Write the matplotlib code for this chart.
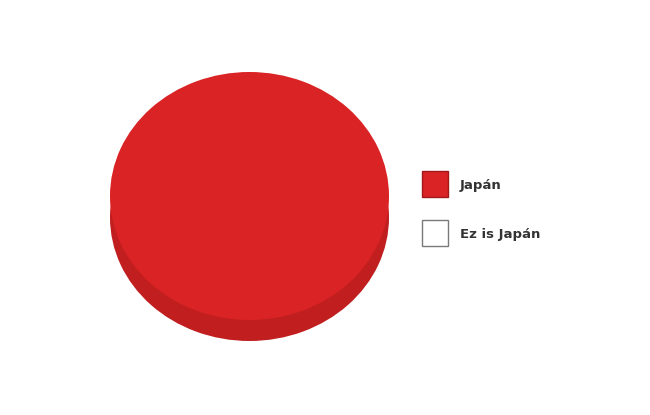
import matplotlib.pyplot as plt
from matplotlib.patches import Rectangle

labels = ['Japán', 'Ez is Japán']
values = [100, 0]
top_colors = ['#DA2324', '#FFFFFF']
side_colors = ['#C11E1F', '#FFFFFF']
edge_colors = ['#A11A1A', '#7A7A7A']

W, H = 650, 415


def px_axes(fig, x0, y0, x1, y1):
    # axes from pixel box (top-left origin)
    return fig.add_axes([x0 / W, 1 - y1 / H, (x1 - x0) / W, (y1 - y0) / H])


def draw_disc(fig, box, colors):
    ax = px_axes(fig, *box)
    ax.pie(values, colors=colors, startangle=90, counterclock=False,
           wedgeprops={'linewidth': 0})
    ax.set_aspect('auto')
    ax.set_xlim(-1, 1)
    ax.set_ylim(-1, 1)
    ax.axis('off')
    return ax


def run():
    fig = plt.figure(figsize=(6.5, 4.15), dpi=100)
    fig.patch.set_facecolor('white')

    # side of the disc, drawn a bit lower and darker, then the top face
    draw_disc(fig, (110, 94, 389, 341), side_colors)
    draw_disc(fig, (110, 72, 389, 320), top_colors)

    # legend, laid out in pixel coordinates
    lax = fig.add_axes([0, 0, 1, 1], zorder=5)
    lax.set_xlim(0, W)
    lax.set_ylim(H, 0)
    lax.axis('off')
    for i, (lab, c, e) in enumerate(zip(labels, top_colors, edge_colors)):
        y = 171 + i * 49
        lax.add_patch(Rectangle((421.5, y), 26, 26, facecolor=c, edgecolor=e, linewidth=1.0))
        lax.text(460, y + 14, lab, va='center', ha='left', color='#333333',
                 family='DejaVu Sans', fontsize=9.5, fontweight='bold')

    plt.savefig('out.png', dpi=100, facecolor='white')


if __name__ == '__main__':
    run()
